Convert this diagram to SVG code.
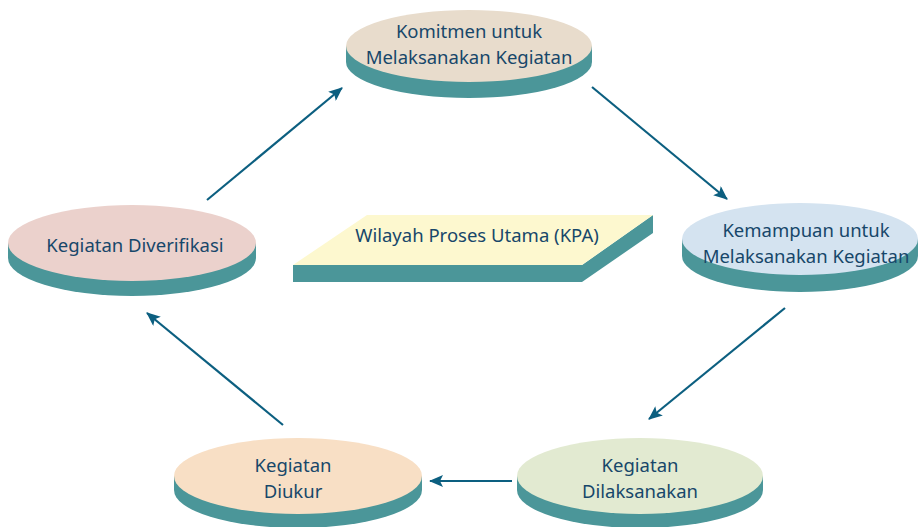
<svg xmlns="http://www.w3.org/2000/svg" width="918" height="527" viewBox="0 0 918 527">
<style>
.side{fill:#4b9699}
.t{font-family:"Noto Sans","Open Sans",sans-serif;font-size:18.5px;fill:#17476a;text-anchor:middle}
.c{stroke:#0c5f80;stroke-width:2.2;fill:none;marker-end:url(#ah)}
</style>
<defs>
<marker id="ah" viewBox="0 0 14 12" refX="13" refY="6" markerWidth="14" markerHeight="12" markerUnits="userSpaceOnUse" orient="auto">
<path d="M0,0 L14,6 L0,12 L3,6 Z" fill="#0c5f80"/>
</marker>
</defs>
<rect width="918" height="527" fill="#ffffff"/>
<g id="connectors">
<line class="c" x1="207" y1="200" x2="342" y2="88"/>
<line class="c" x1="592" y1="87" x2="727" y2="199"/>
<line class="c" x1="785" y1="308" x2="649" y2="419"/>
<line class="c" x1="512" y1="481" x2="430" y2="481"/>
<line class="c" x1="283" y1="425" x2="147" y2="313"/>
</g>
<g id="kpa">
<polygon class="side" points="293,265 582,265 653,215 653,233 582,282 293,282"/>
<polygon points="367,215 653,215 582,265 293,265" fill="#fdf8cf"/>
<text class="t" x="477" y="242">Wilayah Proses Utama (KPA)</text>
</g>
<g id="komitmen">
<path class="side" d="M346,46 L346,62 A123,36 0 0 0 592,62 L592,46 Z"/>
<ellipse cx="469" cy="46" rx="123" ry="36" fill="#e8dccc"/>
<text class="t" x="469" y="38">Komitmen untuk</text>
<text class="t" x="469" y="64">Melaksanakan Kegiatan</text>
</g>
<g id="kemampuan">
<path class="side" d="M682,239 L682,256 A118,36 0 0 0 918,256 L918,239 Z"/>
<ellipse cx="800" cy="239" rx="118" ry="36" fill="#d4e3f0"/>
<text class="t" x="806" y="237">Kemampuan untuk</text>
<text class="t" x="806" y="263">Melaksanakan Kegiatan</text>
</g>
<g id="dilaksanakan">
<path class="side" d="M517,476 L517,490 A123,38 0 0 0 763,490 L763,476 Z"/>
<ellipse cx="640" cy="476" rx="123" ry="38" fill="#e2ead1"/>
<text class="t" x="640" y="472">Kegiatan</text>
<text class="t" x="640" y="498">Dilaksanakan</text>
</g>
<g id="diukur">
<path class="side" d="M174,476 L174,490 A124,38 0 0 0 422,490 L422,476 Z"/>
<ellipse cx="298" cy="476" rx="124" ry="38" fill="#f8dfc5"/>
<text class="t" x="293" y="472">Kegiatan</text>
<text class="t" x="293" y="498">Diukur</text>
</g>
<g id="diverifikasi">
<path class="side" d="M8,243 L8,258 A124,38 0 0 0 256,258 L256,243 Z"/>
<ellipse cx="132" cy="243" rx="124" ry="38" fill="#ebd1cc"/>
<text class="t" x="135" y="252">Kegiatan Diverifikasi</text>
</g>
</svg>
